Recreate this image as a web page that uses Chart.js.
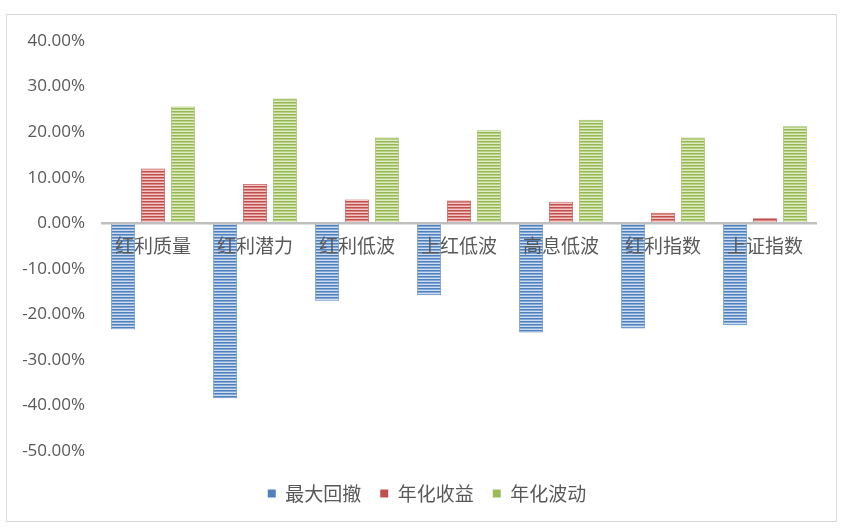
<!DOCTYPE html>
<html>
<head>
<meta charset="utf-8">
<script src="https://cdn.jsdelivr.net/npm/chart.js@4/dist/chart.umd.min.js"></script>
<style>
  html, body { margin: 0; padding: 0; background: #ffffff; }
  #wrap { position: relative; width: 843px; height: 532px; }
  #frame { position: absolute; left: 6px; top: 14px; width: 831px; height: 508px; border: 1.5px solid #D9D9D9; box-sizing: border-box; }
  #c { position: absolute; left: 0; top: 0; }
</style>
</head>
<body>
<div id="wrap">
  <div id="frame"></div>
  <canvas id="c" width="843" height="532"></canvas>
</div>
<script>
const categories = ['红利质量', '红利潜力', '红利低波', '上红低波', '高息低波', '红利指数', '上证指数'];
const seriesNames = ['最大回撤', '年化收益', '年化波动'];
const maxDrawdown = [-23.3, -38.4, -17.0, -15.8, -24.0, -23.1, -22.4];
const annualReturn = [12.0, 8.6, 5.2, 5.0, 4.7, 2.3, 1.1];
const annualVolatility = [25.6, 27.4, 18.8, 20.4, 22.7, 18.8, 21.3];
const yTicks = { min: -50, max: 40, step: 10 };

function stripe(dark, mid, light) {
  const pc = document.createElement('canvas');
  pc.width = 4; pc.height = 3;
  const g = pc.getContext('2d');
  g.fillStyle = dark; g.fillRect(0, 0, 4, 1);
  g.fillStyle = mid; g.fillRect(0, 1, 4, 1);
  g.fillStyle = light; g.fillRect(0, 2, 4, 1);
  return g.createPattern(pc, 'repeat');
}
const ctx = document.getElementById('c').getContext('2d');
const blueP = stripe('#4F81BD', '#85A8D6', '#CFDDF1');
const redP = stripe('#C0504D', '#DA8886', '#F2C7C6');
const greenP = stripe('#96B853', '#B9D187', '#E0EBC8');

const legendShift = {
  id: 'legendShift',
  beforeDraw(chart) {
    if (chart.legend) { chart.legend.left = 38; }
  }
};

new Chart(ctx, {
  type: 'bar',
  plugins: [legendShift],
  data: {
    labels: categories,
    datasets: [
      { label: seriesNames[0], data: maxDrawdown, backgroundColor: blueP, borderColor: '#5B87C2', borderWidth: 0.8 },
      { label: seriesNames[1], data: annualReturn, backgroundColor: redP, borderColor: '#C0504D', borderWidth: 0.8 },
      { label: seriesNames[2], data: annualVolatility, backgroundColor: greenP, borderColor: '#9BBB59', borderWidth: 0.8 }
    ]
  },
  options: {
    responsive: false,
    animation: false,
    devicePixelRatio: 1,
    layout: { padding: { left: 0, right: 27, top: 41, bottom: 19 } },
    datasets: { bar: { categoryPercentage: 0.88, barPercentage: 0.8 } },
    plugins: {
      legend: {
        position: 'bottom',
        labels: {
          boxWidth: 8, boxHeight: 8, padding: 19,
          color: '#595959',
          font: { family: '"Noto Sans CJK SC", sans-serif', size: 19 },
          generateLabels(chart) {
            const fills = ['#4F81BD', '#C0504D', '#9BBB59'];
            return chart.data.datasets.map((d, i) => ({
              text: d.label, fillStyle: fills[i], strokeStyle: fills[i], lineWidth: 0,
              hidden: false, datasetIndex: i, fontColor: '#595959'
            }));
          }
        }
      },
      tooltip: { enabled: false }
    },
    scales: {
      x: {
        type: 'category',
        position: { y: 0 },
        grid: { display: false, drawTicks: false },
        border: { display: true, color: '#BFBFBF', width: 2.5, z: 1 },
        ticks: {
          z: 2,
          color: '#595959',
          padding: 11,
          maxRotation: 0,
          autoSkip: false,
          font: { family: '"Noto Sans CJK SC", sans-serif', size: 19 }
        }
      },
      x2: {
        type: 'category',
        position: 'bottom',
        display: true,
        grid: { display: false, drawTicks: false },
        border: { display: false },
        ticks: { display: false },
        afterFit(s) { s.height = 14; }
      },
      y: {
        min: yTicks.min, max: yTicks.max,
        grid: { display: false, drawTicks: false },
        border: { display: false },
        afterFit(s) { s.width = 102; },
        ticks: {
          stepSize: yTicks.step,
          padding: 17,
          color: '#595959',
          font: { family: '"Open Sans", sans-serif', size: 17 },
          callback: (v) => (Math.round(v * 100) / 100).toFixed(2) + '%'
        }
      }
    }
  }
});
</script>
</body>
</html>
